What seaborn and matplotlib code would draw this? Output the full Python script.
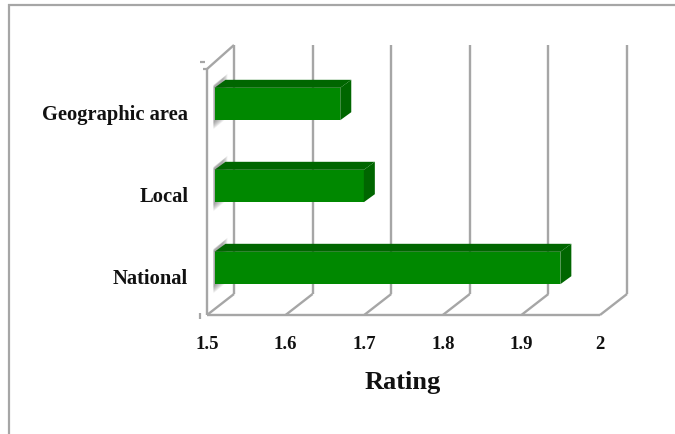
import matplotlib
matplotlib.use("Agg")
import matplotlib.pyplot as plt
from matplotlib.lines import Line2D
from matplotlib.patches import Polygon
from matplotlib.transforms import Affine2D, IdentityTransform, blended_transform_factory, offset_copy
import seaborn as sns
import pandas as pd

categories = ["Geographic area", "Local", "National"]
ratings = [1.66, 1.69, 1.94]
x_ticks = [1.5, 1.6, 1.7, 1.8, 1.9, 2.0]
x_tick_labels = ["1.5", "1.6", "1.7", "1.8", "1.9", "2"]
x_label = "Rating"

FRONT = "#008800"
DARK = "#006600"
GRID = "#A6A6A6"
W, H = 675, 435

sns.set_theme(style="white")
plt.rcParams["font.family"] = ["Liberation Serif", "DejaVu Serif"]
plt.rcParams["font.weight"] = "bold"
fig = plt.figure(figsize=(W / 100, H / 100), dpi=100, facecolor="white")


def rect(left, right, top, bottom):
    return [left / W, 1 - bottom / H, (right - left) / W, (bottom - top) / H]


def fig_line(xs, ys, lw=1.6):
    fig.add_artist(Line2D([x / W for x in xs], [1 - y / H for y in ys], color=GRID, lw=lw,
                          solid_capstyle="butt"))


# outer frame and stubs
fig_line([8.5, 8.5], [5, 435])
fig_line([8, 675], [5.5, 5.5])
fig_line([200, 205], [62.5, 62.5])
fig_line([203, 207], [70, 70])
fig_line([199.5, 199.5], [314, 320])

# frame axes: the front plane of the chart box
ax = fig.add_axes(rect(207, 600, 70, 316))
ax.set_xlim(1.5, 2.0)
ax.set_ylim(2.5, -0.5)
for s in ax.spines.values():
    s.set_visible(False)
ax.patch.set_alpha(0)
ax.set_xticks(x_ticks, x_tick_labels, fontsize=13.5, fontweight="bold", color="#111111")
ax.set_yticks(range(len(categories)), categories, fontsize=14.8, fontweight="bold", color="#111111")
ax.tick_params(axis="x", length=0, pad=14.7)
ax.tick_params(axis="y", length=0, pad=13.5)
label_shift = Affine2D().translate(0, -1.5)
for lab in ax.get_yticklabels():
    lab.set_transform(lab.get_transform() + label_shift)
ax.set_xlabel(x_label, fontsize=19, fontweight="bold", color="#111111")
ax.xaxis.set_label_coords((403 - 207) / 393, -(383 - 316) / 246, transform=ax.transAxes)
ax.xaxis.label.set_va("center")

blend = blended_transform_factory(ax.transData, ax.transAxes)
back = offset_copy(blend, fig=fig, x=27, y=21, units="dots")
line_kw = dict(color=GRID, lw=1.7, solid_capstyle="butt", clip_on=False)
back_top = (316 - 46 - 21) / 246
for v in x_ticks:
    # back wall verticals rise from the back floor edge
    ax.plot([v, v], [0, back_top], transform=back, **line_kw)
    # floor diagonals
    p0 = blend.transform((v, 0))
    p1 = back.transform((v, 0))
    ax.plot([p0[0], p1[0]], [p0[1], p1[1]], transform=IdentityTransform(), **line_kw)
ax.plot([1.5, 2.0], [0, 0], transform=blend, **line_kw)
ax.plot([1.5, 1.5], [0, 1], transform=blend, **line_kw)
p0 = blend.transform((1.5, 1))
p1 = back.transform((1.5, back_top))
ax.plot([p0[0], p1[0]], [p0[1], p1[1]], transform=IdentityTransform(), **line_kw)

# bar axes: shifted into depth, bars stand between the front and back planes
bx = fig.add_axes(rect(214.5, 607.5, 64, 310))
bx.patch.set_alpha(0)
df = pd.DataFrame({"category": categories, "rating": ratings})
sns.barplot(data=df, x="rating", y="category", color=FRONT, saturation=1, width=0.395, ax=bx,
            edgecolor="none", linewidth=0, zorder=5)
bx.set_xlim(1.5, 2.0)
bx.set_ylim(2.5, -0.5)
bx.axis("off")

DX, DY = 11, 8
identity = IdentityTransform()
for patch in bx.patches:
    x0, w = patch.get_x(), patch.get_width()
    y0, h = patch.get_y(), patch.get_height()
    left = bx.transData.transform((1.5, y0))[0]
    right = bx.transData.transform((x0 + w, y0))[0]
    top = bx.transData.transform((1.5, y0))[1]
    bottom = bx.transData.transform((1.5, y0 + h))[1]
    # side wall shadow built from stacked translucent layers
    for g in range(8):
        bx.add_patch(Polygon([(left - 1, bottom - 9 + g * 0.9),
                              (left + 11 - g * 0.7, bottom + 1 + g * 0.4),
                              (left + 13 - g * 0.7, top + 14 - g * 0.7),
                              (left - 1, top + 3 - g * 0.3)],
                             closed=True, fc="#707070", ec="none", alpha=0.10,
                             transform=identity, clip_on=False, zorder=1))
    bx.add_patch(Polygon([(left, top), (left + DX, top + DY), (right + DX, top + DY), (right, top)],
                         closed=True, fc=DARK, ec="none", transform=identity, clip_on=False, zorder=6))
    bx.add_patch(Polygon([(right, top), (right + DX, top + DY), (right + DX, bottom + DY), (right, bottom)],
                         closed=True, fc=DARK, ec="none", transform=identity, clip_on=False, zorder=6))

fig.savefig("out.png", dpi=100)
